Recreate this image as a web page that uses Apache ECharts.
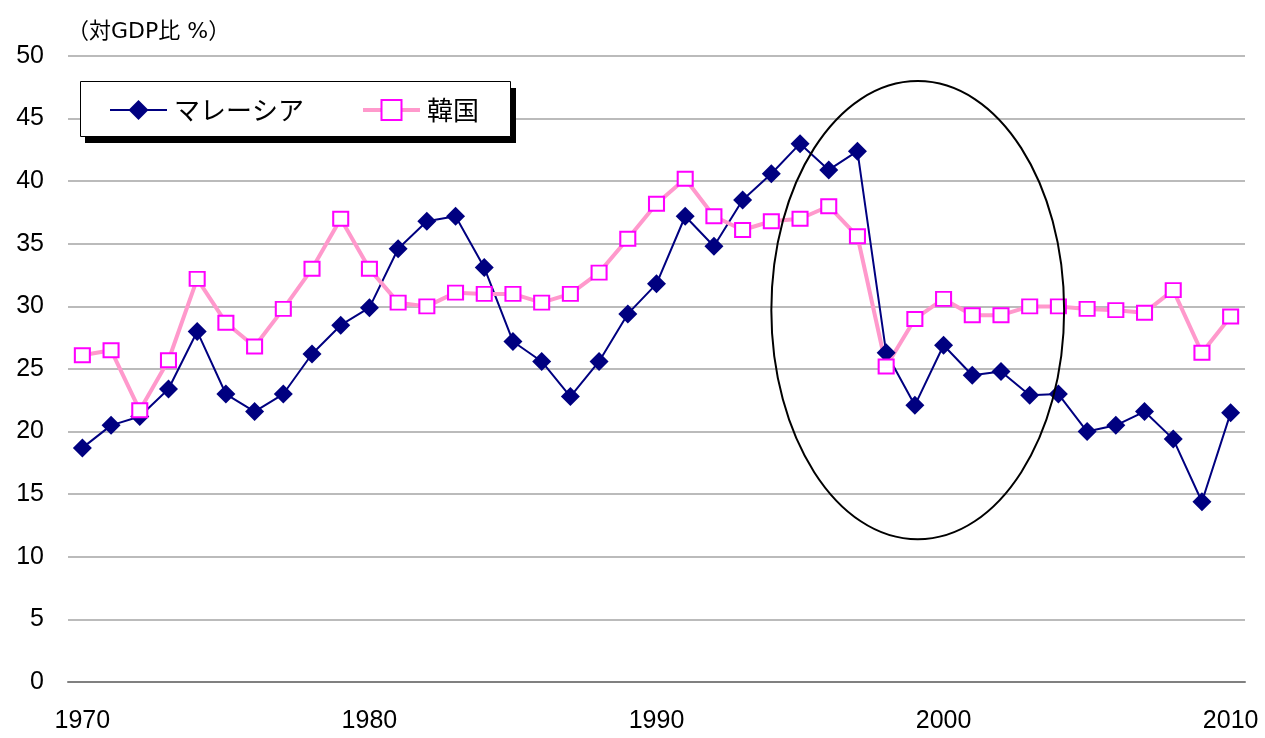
<!DOCTYPE html>
<html><head><meta charset="utf-8">
<script src="https://cdn.jsdelivr.net/npm/echarts@6/dist/echarts.min.js"></script>
<style>html,body{margin:0;padding:0;background:#fff}#c{width:1265px;height:738px}</style>
</head><body><div id="c"></div>
<script>
const years = [];
for (let y = 1970; y <= 2010; y++) years.push(String(y));
const malaysia = [18.7,20.5,21.2,23.4,28.0,23.0,21.6,23.0,26.2,28.5,29.9,34.6,36.8,37.2,33.1,27.2,25.6,22.8,25.6,29.4,31.8,37.2,34.8,38.5,40.6,43.0,40.9,42.4,26.3,22.1,26.9,24.5,24.8,22.9,23.0,20.0,20.5,21.6,19.4,14.4,21.5];
const korea = [26.1,26.5,21.7,25.7,32.2,28.7,26.8,29.8,33.0,37.0,33.0,30.3,30.0,31.1,31.0,31.0,30.3,31.0,32.7,35.4,38.2,40.2,37.2,36.1,36.8,37.0,38.0,35.6,25.2,29.0,30.6,29.3,29.3,30.0,30.0,29.8,29.7,29.5,31.3,26.3,29.2];
const seriesNames = ['マレーシア', '韓国'];
const unitLabel = '（対GDP比 %）';
// highlighted region (annotation): center year/value and half-extent
const circleCenter = ['1999', 29.7];
const circleCenterYearShift = 0.1;
const circleHalf = [5.1, 18.3];

const FONT = '"Liberation Sans",Arial,sans-serif';
const JP = '"Noto Sans CJK JP",sans-serif';
const chart = echarts.init(document.getElementById('c'));
chart.setOption({
  animation: false,
  title: { text: unitLabel, left: 62, top: 16, textStyle: { fontSize: 22, fontWeight: 'normal', color: '#000', fontFamily: '"DejaVu Sans","Noto Sans CJK JP",sans-serif' } },
  grid: { left: 68, right: 20, top: 56, bottom: 56, containLabel: false },
  legend: {
    left: 109, top: 97, orient: 'horizontal', z: 20,
    padding: 0, itemGap: 57, itemWidth: 57, itemHeight: 25,
    textStyle: { fontSize: 26, color: '#000', fontFamily: JP, padding: [0,0,0,2] },
    data: [
      { name: seriesNames[0], lineStyle: { width: 2 } },
      { name: seriesNames[1], lineStyle: { width: 4 } }
    ]
  },
  xAxis: {
    type: 'category', data: years, boundaryGap: true,
    axisLine: { lineStyle: { color: '#808080', width: 2 } },
    axisTick: { show: false },
    axisLabel: { interval: (i) => i % 10 === 0, fontSize: 25, color: '#000', fontFamily: FONT, margin: 27 },
    splitLine: { show: false }
  },
  yAxis: {
    type: 'value', min: 0, max: 50, interval: 5,
    axisLine: { show: false }, axisTick: { show: false },
    axisLabel: { fontSize: 25, color: '#000', fontFamily: FONT, margin: 24 },
    splitLine: { lineStyle: { color: '#bbb', width: 2 } }
  },
  series: [
    { name: seriesNames[0], type: 'line', data: malaysia, symbol: 'diamond', symbolSize: 19, showAllSymbol: true,
      lineStyle: { color: '#000080', width: 2 }, itemStyle: { color: '#000080', borderColor: '#000080', borderWidth: 0 } },
    { name: seriesNames[1], type: 'line', data: korea, symbol: 'rect', symbolSize: [15, 14], showAllSymbol: true,
      lineStyle: { color: '#FF99CC', width: 4 }, itemStyle: { color: '#fff', borderColor: '#FF00FF', borderWidth: 2 } }
  ]
});
const c = chart.convertToPixel({ xAxisIndex: 0, yAxisIndex: 0 }, circleCenter);
const y0 = chart.convertToPixel({ yAxisIndex: 0 }, 0);
const y1 = chart.convertToPixel({ yAxisIndex: 0 }, circleHalf[1]);
const idx = years.indexOf(circleCenter[0]);
const xa = chart.convertToPixel({ xAxisIndex: 0 }, years[idx]);
const xb = chart.convertToPixel({ xAxisIndex: 0 }, years[idx + 1]);
const step = xb - xa;
chart.setOption({
  graphic: [
    { type: 'rect', shape: { x: 85, y: 88, width: 431, height: 55 }, style: { fill: '#000' }, z: 5 },
    { type: 'rect', shape: { x: 80.5, y: 81.5, width: 430, height: 55 }, style: { fill: '#fff', stroke: '#000', lineWidth: 1 }, z: 6 },
    { type: 'ellipse', shape: { cx: c[0] + step * circleCenterYearShift, cy: c[1], rx: step * circleHalf[0], ry: Math.abs(y0 - y1) },
      style: { fill: 'none', stroke: '#000', lineWidth: 2 }, z: 100 }
  ]
});
</script></body></html>
